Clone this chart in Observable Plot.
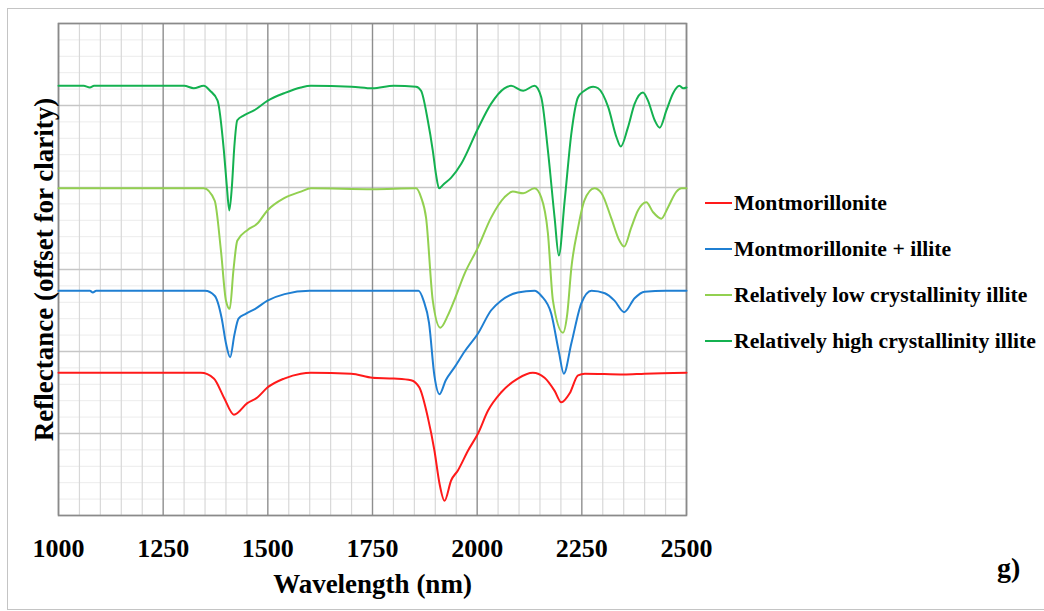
<!DOCTYPE html>
<html>
<head>
<meta charset="utf-8">
<script src="https://cdn.jsdelivr.net/npm/d3@7"></script>
<script src="https://cdn.jsdelivr.net/npm/@observablehq/plot@0.6"></script>
<style>
  html, body { margin: 0; padding: 0; background: #fff; }
  #wrap { position: relative; width: 1044px; height: 611px; overflow: hidden; font-family: "Liberation Serif", "Times New Roman", serif; font-weight: bold; color: #000; }
  #border { position: absolute; left: 7px; top: 8px; width: 1050px; height: 600px; border-left: 1.5px solid #c4c4c4; border-top: 1.5px solid #c4c4c4; border-bottom: 1.5px solid #c4c4c4; }
  #chart { position: absolute; left: 0; top: 0; }
  #legend { position: absolute; left: 705px; top: 180px; }
  .item { display: flex; align-items: center; height: 46px; font-size: 21.7px; white-space: nowrap; }
  .swatch { width: 27px; height: 2.5px; margin-right: 2px; }
  #panel { position: absolute; left: 997px; top: 552px; font-size: 28px; }
</style>
</head>
<body>
<div id="wrap">
  <div id="border"></div>
  <div id="chart"></div>
  <div id="legend"></div>
  <div id="panel">g)</div>
</div>
<script>
// ---- data (wavelength nm, reflectance offset for clarity) ----
const seriesNames = ["Montmorillonite", "Montmorillonite + illite", "Relatively low crystallinity illite", "Relatively high crystallinity illite"];
const seriesColors = ["#ff1a1a", "#1f7fd2", "#92d050", "#14b150"];

const montmorillonite = [
  [1000,0.174],[1100,0.174],[1200,0.174],[1340,0.174],[1371,0.167],[1395,0.144],[1419,0.123],[1451,0.137],
  [1475,0.144],[1499,0.156],[1539,0.167],[1579,0.173],[1603,0.174],[1699,0.173],[1750,0.168],[1801,0.167],
  [1842,0.165],[1862,0.156],[1882,0.120],[1898,0.079],[1910,0.039],[1922,0.018],[1938,0.043],[1954,0.055],
  [1978,0.079],[2002,0.100],[2026,0.128],[2057,0.150],[2097,0.167],[2133,0.174],[2161,0.168],[2185,0.152],
  [2201,0.138],[2221,0.149],[2241,0.171],[2257,0.173],[2350,0.172],[2400,0.173],[2500,0.174]
];
const montIllite = [
  [1000,0.274],[1075,0.274],[1082,0.272],[1090,0.274],[1350,0.274],[1373,0.268],[1390,0.240],[1400,0.210],
  [1410,0.193],[1420,0.220],[1430,0.240],[1447,0.246],[1470,0.252],[1499,0.262],[1540,0.270],[1600,0.274],
  [1860,0.274],[1872,0.262],[1885,0.235],[1898,0.170],[1910,0.148],[1925,0.165],[1945,0.180],[1970,0.200],
  [2002,0.222],[2033,0.250],[2057,0.262],[2097,0.272],[2137,0.274],[2153,0.268],[2177,0.246],[2195,0.200],
  [2207,0.173],[2225,0.210],[2249,0.259],[2273,0.274],[2305,0.271],[2328,0.262],[2351,0.248],[2376,0.265],
  [2400,0.273],[2450,0.274],[2500,0.274]
];
const lowCrystIllite = [
  [1000,0.399],[1100,0.399],[1200,0.399],[1347,0.399],[1373,0.384],[1388,0.323],[1400,0.262],[1409,0.252],
  [1418,0.300],[1427,0.335],[1451,0.348],[1475,0.356],[1499,0.372],[1539,0.387],[1579,0.395],[1603,0.399],
  [1750,0.398],[1854,0.399],[1866,0.388],[1878,0.363],[1894,0.262],[1912,0.229],[1930,0.244],[1945,0.262],
  [1970,0.295],[2002,0.327],[2033,0.363],[2065,0.388],[2085,0.395],[2110,0.393],[2137,0.399],[2153,0.388],
  [2169,0.344],[2181,0.262],[2205,0.223],[2215,0.245],[2225,0.302],[2241,0.351],[2256,0.384],[2280,0.399],
  [2297,0.393],[2320,0.363],[2340,0.335],[2351,0.328],[2368,0.351],[2384,0.372],[2404,0.382],[2420,0.370],
  [2440,0.362],[2456,0.376],[2476,0.395],[2488,0.399],[2500,0.399]
];
const highCrystIllite = [
  [1000,0.524],[1060,0.524],[1075,0.522],[1085,0.524],[1200,0.524],[1300,0.524],[1323,0.521],[1347,0.524],
  [1362,0.518],[1380,0.506],[1395,0.445],[1402,0.402],[1408,0.372],[1414,0.400],[1420,0.450],[1427,0.482],
  [1443,0.488],[1467,0.494],[1500,0.506],[1539,0.515],[1579,0.522],[1603,0.524],[1700,0.523],[1750,0.521],
  [1801,0.524],[1854,0.523],[1866,0.518],[1882,0.482],[1894,0.445],[1902,0.415],[1909,0.399],[1920,0.404],
  [1938,0.412],[1962,0.429],[2002,0.472],[2033,0.502],[2065,0.521],[2081,0.524],[2110,0.518],[2137,0.524],
  [2153,0.510],[2169,0.445],[2185,0.363],[2195,0.317],[2209,0.384],[2225,0.466],[2241,0.510],[2256,0.518],
  [2277,0.523],[2289,0.521],[2313,0.498],[2333,0.461],[2343,0.450],[2360,0.473],[2376,0.502],[2396,0.516],
  [2408,0.506],[2424,0.482],[2436,0.473],[2452,0.494],[2468,0.515],[2483,0.524],[2492,0.521],[2500,0.522]
];
const xTicks = [1000, 1250, 1500, 1750, 2000, 2250, 2500];
const xMinorStep = 50;
const yMajor = [0, 0.1, 0.2, 0.3, 0.4, 0.5, 0.6];
const yMinorStep = 0.02;

// ---- build ----
const allSeries = [montmorillonite, montIllite, lowCrystIllite, highCrystIllite];
const rows = allSeries.flatMap((s, i) => s.map(([nm, r]) => ({nm, r, series: seriesNames[i]})));
const xMinor = d3.range(1000, 2501, xMinorStep).filter(v => v % 250 !== 0);
const yMinor = d3.range(0, 0.6001, yMinorStep).map(v => +v.toFixed(2)).filter(v => Math.abs(v * 10 - Math.round(v * 10)) > 1e-6);

const chart = Plot.plot({
  width: 1044,
  height: 611,
  marginLeft: 58,
  marginRight: 358,
  marginTop: 23,
  marginBottom: 96,
  style: {fontFamily: "'Liberation Serif', 'Times New Roman', serif", fontWeight: "bold", fontSize: "26px", color: "#000", background: "transparent"},
  x: {domain: [1000, 2500], axis: null},
  y: {domain: [0, 0.6], axis: null},
  color: {domain: seriesNames, range: seriesColors},
  marks: [
    Plot.ruleY(yMinor, {stroke: "#ececec", strokeWidth: 1}),
    Plot.ruleX(xMinor, {stroke: "#d8d8d8", strokeWidth: 1.2}),
    Plot.ruleY(yMajor, {stroke: "#c6c6c6", strokeWidth: 1.5}),
    Plot.ruleX(xTicks, {stroke: "#8e8e8e", strokeWidth: 1.4}),
    Plot.frame({stroke: "#8a8a8a", strokeWidth: 1.6}),
    Plot.line(rows, {x: "nm", y: "r", z: "series", stroke: "series", strokeWidth: 2, curve: "monotone-x"}),
    Plot.text(xTicks, {x: d => d, text: d => String(d), frameAnchor: "bottom", lineAnchor: "top", dy: 23, fontSize: 26, fontWeight: "bold"}),
    Plot.text(["Wavelength (nm)"], {frameAnchor: "bottom", lineAnchor: "bottom", textAnchor: "middle", dy: 77, fontSize: 27, fontWeight: "bold"}),
    Plot.text(["Reflectance (offset for clarity)"], {frameAnchor: "left", lineAnchor: "bottom", textAnchor: "middle", rotate: -90, dx: -6, fontSize: 27, fontWeight: "bold"})
  ]
});
document.getElementById("chart").appendChild(chart);

const legend = document.getElementById("legend");
seriesNames.forEach((name, i) => {
  const row = document.createElement("div");
  row.className = "item";
  const sw = document.createElement("span");
  sw.className = "swatch";
  sw.style.background = seriesColors[i];
  const label = document.createElement("span");
  label.textContent = name;
  row.appendChild(sw);
  row.appendChild(label);
  legend.appendChild(row);
});
</script>
</body>
</html>
